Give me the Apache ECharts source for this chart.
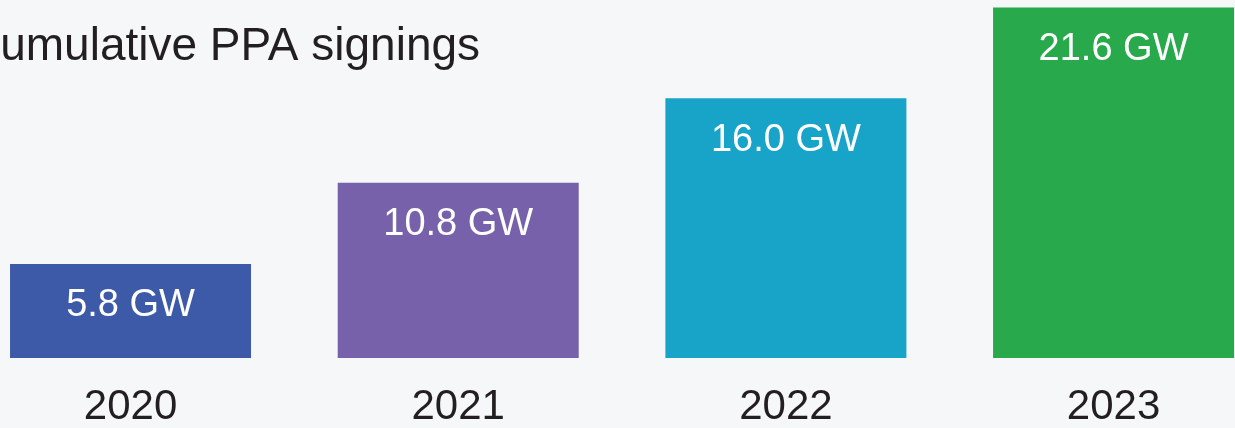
<!DOCTYPE html>
<html>
<head>
<meta charset="utf-8">
<script src="https://cdn.jsdelivr.net/npm/echarts@6/dist/echarts.min.js"></script>
<style>
html,body{margin:0;padding:0;background:#f6f7f9;}
#chart{width:1235px;height:428px;}
</style>
</head>
<body>
<div id="chart"></div>
<script>
const titleText = 'Cumulative PPA signings';
const years = ['2020', '2021', '2022', '2023'];
const values = [5.8, 10.8, 16.0, 21.6];
const barColors = ['#3d5aa8', '#7661aa', '#18a3c8', '#28a94b'];

const chart = echarts.init(document.getElementById('chart'));
chart.setOption({
  backgroundColor: '#f6f7f9',
  animation: false,
  title: {
    text: titleText,
    left: -33,
    top: 24,
    padding: 0,
    textStyle: {
      fontFamily: 'Liberation Sans',
      fontSize: 46,
      fontWeight: 'normal',
      color: '#231f20'
    }
  },
  grid: { left: -33.3, top: 1, width: 1310.7, bottom: 70, containLabel: false, outerBoundsMode: 'none' },
  xAxis: {
    type: 'category',
    data: years,
    axisLine: { show: false },
    axisTick: { show: false },
    axisLabel: {
      margin: 28,
      fontFamily: 'Liberation Sans',
      fontSize: 42,
      color: '#231f20'
    }
  },
  yAxis: {
    type: 'value',
    min: 0,
    max: 22,
    show: false,
    splitLine: { show: false }
  },
  series: [{
    type: 'bar',
    barWidth: 241,
    data: values.map((v, i) => ({ value: v, itemStyle: { color: barColors[i] } })),
    label: {
      show: true,
      position: 'insideTop',
      distance: 23,
      formatter: p => p.value.toFixed(1) + ' GW',
      fontFamily: 'Liberation Sans',
      fontSize: 38,
      color: '#ffffff'
    }
  }]
});
</script>
</body>
</html>
